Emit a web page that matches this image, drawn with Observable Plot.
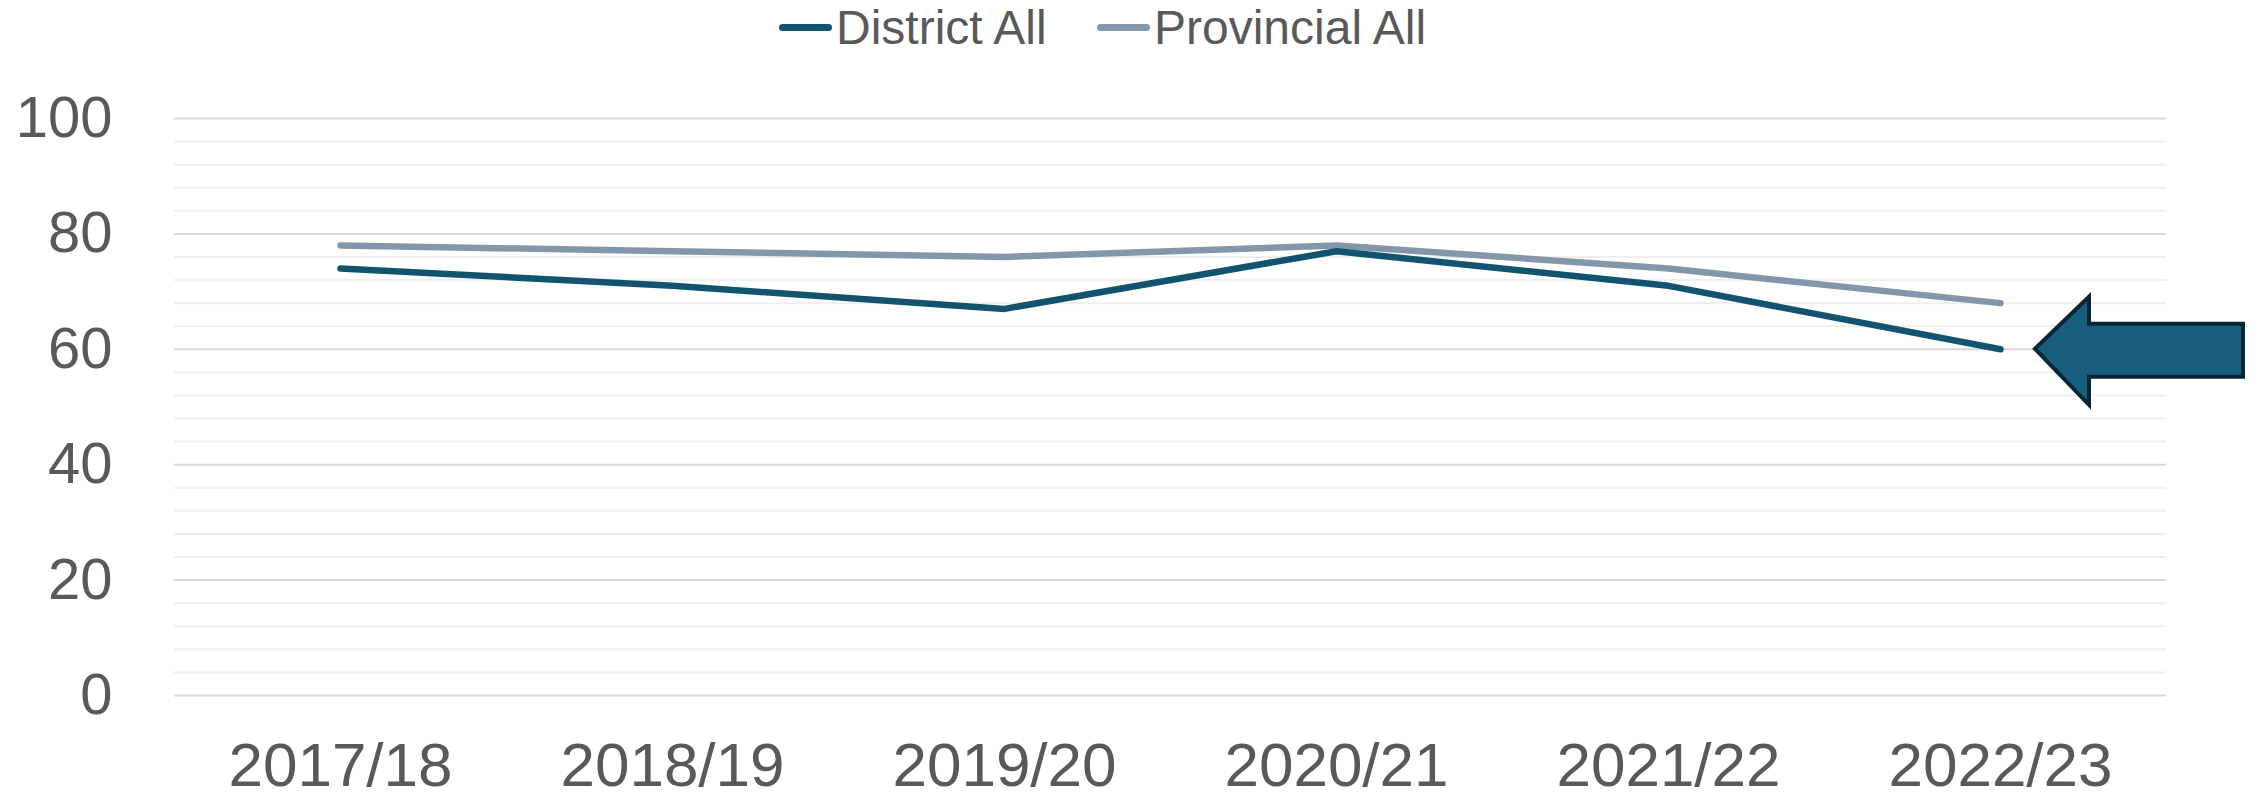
<!DOCTYPE html>
<html>
<head>
<meta charset="utf-8">
<script src="https://cdn.jsdelivr.net/npm/d3@7"></script>
<script src="https://cdn.jsdelivr.net/npm/@observablehq/plot@0.6"></script>
<style>
  html, body { margin: 0; padding: 0; background: #fff; }
  body { width: 2257px; height: 801px; overflow: hidden; font-family: "Liberation Sans", Arial, sans-serif; }
  #legend { height: 55px; position: relative; }
  .item { position: absolute; top: 0; height: 55px; display: flex; align-items: center; font-size: 48px; color: #595959; }
  .sw { width: 53px; height: 7px; border-radius: 3.5px; margin-right: 4px; }
</style>
</head>
<body>
<div id="legend"></div>
<div id="chart"></div>
<script>
const years = ["2017/18", "2018/19", "2019/20", "2020/21", "2021/22", "2022/23"];
const districtAll = [74, 71, 67, 77, 71, 60];
const provincialAll = [78, 77, 76, 78, 74, 68];
const majorTicks = [0, 20, 40, 60, 80, 100];
const minorTicks = d3.range(0, 101, 4).filter(v => v % 20 !== 0);
const seriesNames = ["District All", "Provincial All"];
const seriesColors = ["#12546f", "#8497aa"];

const district = years.map((y, i) => ({year: y, value: districtAll[i]}));
const provincial = years.map((y, i) => ({year: y, value: provincialAll[i]}));

// legend
const legend = document.getElementById("legend");
const legendLeft = [779, 1097];
seriesNames.forEach((n, i) => {
  const d = document.createElement("div");
  d.className = "item";
  d.style.left = legendLeft[i] + "px";
  d.innerHTML = `<span class="sw" style="background:${seriesColors[i]}"></span><span>${n}</span>`;
  legend.appendChild(d);
});

// arrow annotation pointing at last District value
function arrowMark(index, scales) {
  const tx = scales.x(years[years.length - 1]) + 35;
  const ty = scales.y(districtAll[districtAll.length - 1]);
  const pts = [
    [tx, ty], [tx + 54, ty - 52], [tx + 54, ty - 25], [tx + 208, ty - 25],
    [tx + 208, ty + 28], [tx + 54, ty + 28], [tx + 54, ty + 56]
  ];
  const p = d3.create("svg:path")
    .attr("d", "M" + pts.map(q => q.join(",")).join("L") + "Z")
    .attr("fill", "#175e7f")
    .attr("stroke", "#0b2535")
    .attr("stroke-width", 4)
    .attr("stroke-linejoin", "miter");
  return p.node();
}

const chart = Plot.plot({
  width: 2257,
  height: 746,
  marginLeft: 174,
  marginRight: 91,
  marginTop: 63,
  marginBottom: 106,
  style: {fontFamily: "'Liberation Sans', Arial, sans-serif", color: "#595959", background: "#fff", overflow: "visible"},
  x: {type: "point", domain: years, padding: 0.5, align: 0.5},
  y: {domain: [0, 100]},
  marks: [
    Plot.ruleY(minorTicks, {stroke: "#efefef", strokeWidth: 2}),
    Plot.ruleY(majorTicks, {stroke: "#d9d9d9", strokeWidth: 2}),
    Plot.axisY({ticks: majorTicks, tickSize: 0, tickPadding: 62, fontSize: 58, label: null, fill: "#595959"}),
    Plot.axisX({tickSize: 0, tickPadding: 46, fontSize: 62, label: null, fill: "#595959"}),
    Plot.line(provincial, {x: "year", y: "value", stroke: seriesColors[1], strokeWidth: 6.5, strokeLinecap: "round", strokeLinejoin: "round"}),
    Plot.line(district, {x: "year", y: "value", stroke: seriesColors[0], strokeWidth: 6.5, strokeLinecap: "round", strokeLinejoin: "round"}),
    arrowMark
  ]
});
document.getElementById("chart").appendChild(chart);
</script>
</body>
</html>
